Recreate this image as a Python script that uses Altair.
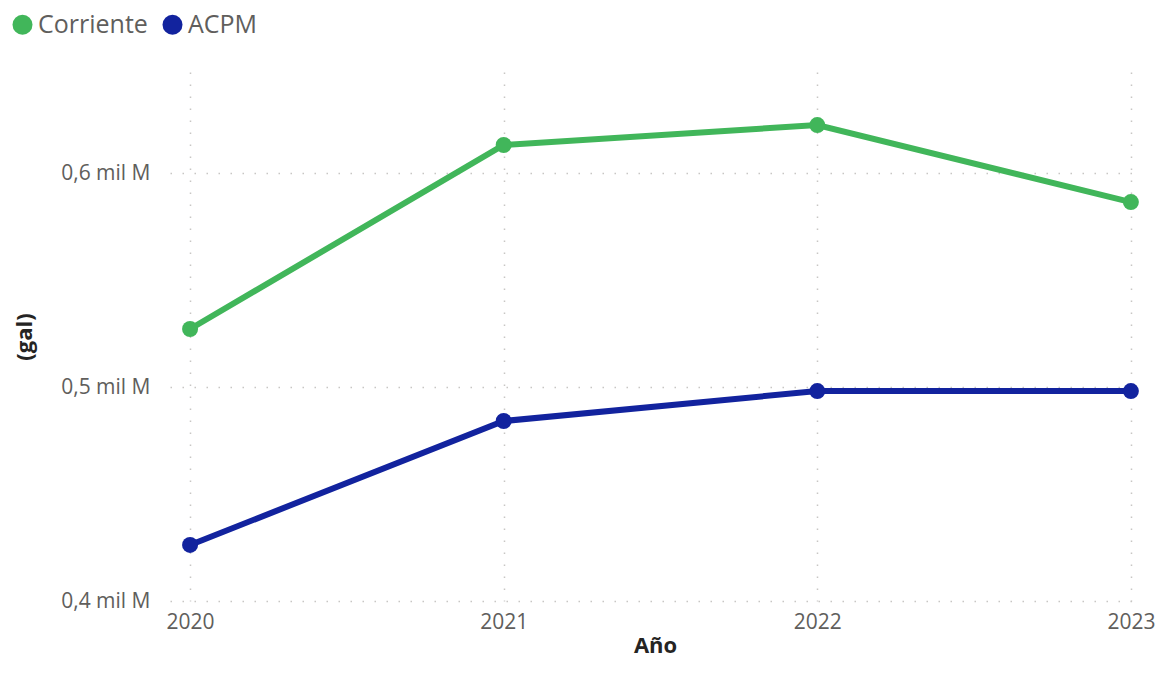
import altair as alt
import pandas as pd

years = [2020, 2021, 2022, 2023]
corriente = [527.1e6, 613.1e6, 622.4e6, 586.4e6]
acpm = [426.2e6, 484.1e6, 498.1e6, 498.1e6]
series = ["Corriente", "ACPM"]
colors = ["#41B65A", "#12239E"]
y_ticks = [400e6, 500e6, 600e6]

rows = []
for s, vals in zip(series, [corriente, acpm]):
    for yr, v in zip(years, vals):
        rows.append({"Año": yr, "Serie": s, "gal": v})
df = pd.DataFrame(rows)

label_expr = "replace(format(datum.value / 1e9, '.1f'), '.', ',') + ' mil M'"

x = alt.X("Año:Q",
          scale=alt.Scale(domain=[2019.936, 2023.029], nice=False, zero=False),
          axis=alt.Axis(values=years, format="d", title="Año", labelPadding=10,
                        titlePadding=3, ticks=False, domain=False,
                        labelFlush=False))
y = alt.Y("gal:Q",
          scale=alt.Scale(domain=[400e6, 647.2e6], nice=False, zero=False),
          axis=alt.Axis(values=y_ticks, labelExpr=label_expr, title="(gal)",
                        labelPadding=20, titlePadding=24, ticks=False,
                        domain=False))
color = alt.Color("Serie:N",
                  scale=alt.Scale(domain=series, range=colors),
                  legend=alt.Legend(title=None, orient="none", direction="horizontal",
                                    legendX=-160, legendY=-60, symbolType="circle",
                                    symbolSize=400, symbolStrokeWidth=0,
                                    symbolOpacity=1, labelFontSize=25,
                                    labelColor="#605E5C", labelFont="Open Sans",
                                    labelLimit=0, labelBaseline="middle",
                                    columnPadding=12, labelOffset=3))

base = alt.Chart(df)
lines = base.mark_line(strokeWidth=6).encode(x=x, y=y, color=color)
points = base.mark_point(filled=True, size=256, opacity=1).encode(x=x, y=y, color=color)

chart = (lines + points).properties(
    width=970, height=529,
    autosize=alt.AutoSizeParams(type="none"),
    padding={"left": 162, "top": 64, "right": 15, "bottom": 58},
).configure_axis(
    labelFont="Open Sans", labelFontSize=21, labelColor="#605E5C",
    titleFont="Open Sans", titleFontSize=22, titleFontWeight="bold",
    titleColor="#252423",
    gridColor="#C8C6C4", gridDash=[1.5, 10.5], gridWidth=1.5,
).configure_view(stroke=None)

chart.save("out.html", embed_options={"renderer": "svg", "actions": False})
